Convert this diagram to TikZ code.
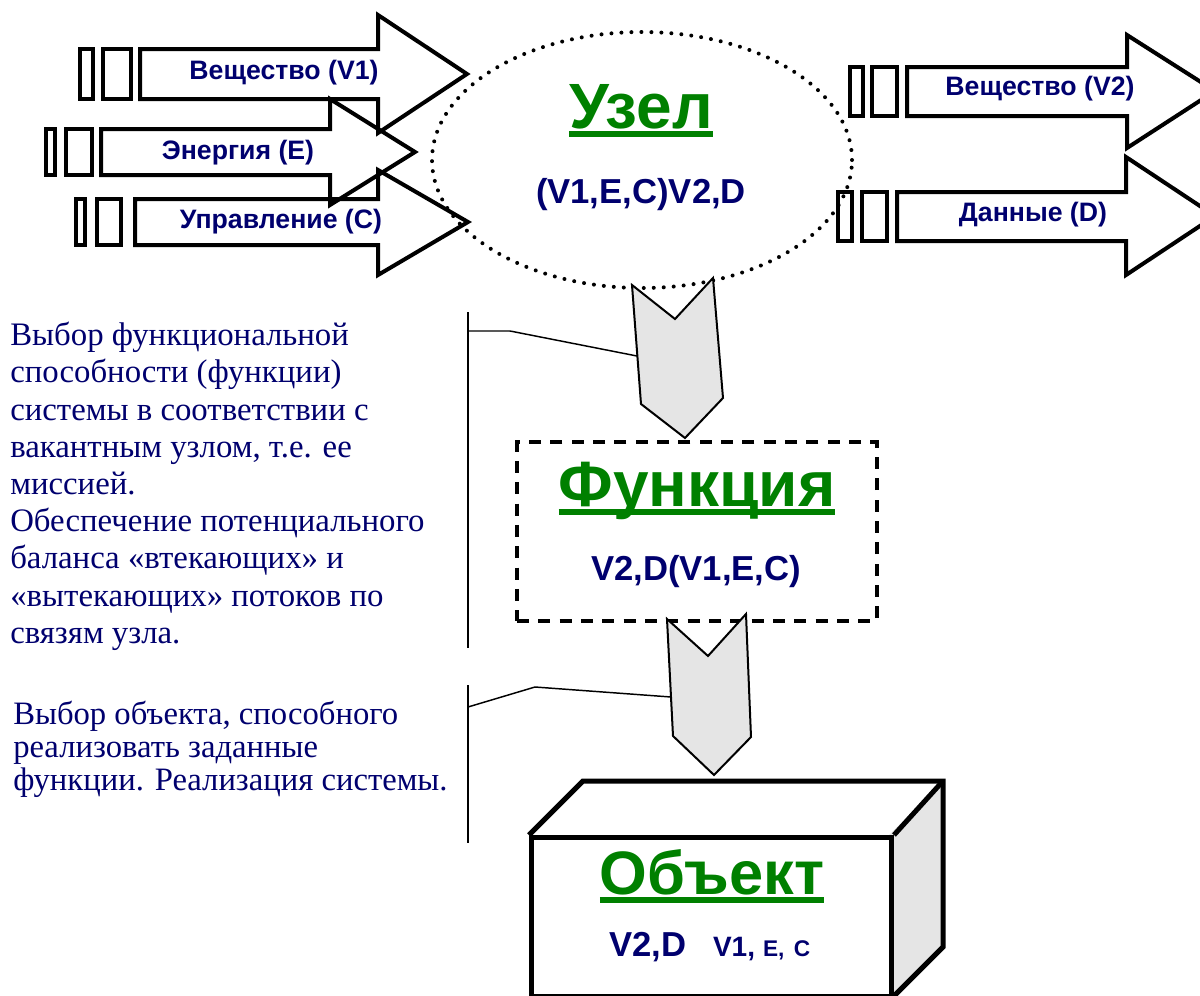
\documentclass[tikz,border=0pt]{standalone}
\usepackage{fontspec}
\setmainfont{Liberation Serif}
\setsansfont{Liberation Sans}
\usetikzlibrary{shapes.geometric}
\definecolor{navy}{RGB}{0,0,110}
\definecolor{leafgreen}{RGB}{0,128,0}
\newcommand{\titleline}[1]{\setbox0\hbox{#1}\rlap{\usebox0}\rule[-6.4pt]{\wd0}{3.8pt}}

\begin{document}
\begin{tikzpicture}[x = 0.75pt, y = -0.75pt]
	\tikzstyle{flowStyle} = [draw, line width = 3pt, line join = miter]
	\tikzstyle{flowLabel} = [font = \sffamily\bfseries\fontsize{20}{23}\selectfont, text = navy, inner sep = 0pt]
	\tikzstyle{titleStyle} = [font = \sffamily\bfseries\fontsize{48}{55}\selectfont, text = leafgreen, anchor = base, inner sep = 0pt]
	\tikzstyle{formulaStyle} = [font = \sffamily\bfseries\fontsize{26}{30}\selectfont, text = navy, anchor = base, inner sep = 0pt]
	\tikzstyle{noteStyle} = [font = \fontsize{24.6}{27.9}\selectfont, text = navy, align = left, anchor = north west, inner sep = 0pt]
	\tikzstyle{chevronStyle} = [draw, line width = 1.5pt, fill = black!10, line join = miter]
	\tikzstyle{leaderStyle} = [draw, line width = 1.1pt]
	\tikzstyle{boxStyle} = [draw, line width = 3.75pt, line join = miter]
	\useasboundingbox (0,0) rectangle (1200,996);
	\draw[flowStyle] (80,49) rectangle (93,99);
	\draw[flowStyle] (103,49) rectangle (131,99);
	\draw[flowStyle] (140,49) -- (378,49) -- (378,15) -- (467,74) -- (378,133) -- (378,99) -- (140,99) -- cycle;
	\draw[flowStyle] (46,129) rectangle (55,175);
	\draw[flowStyle] (66,129) rectangle (92,175);
	\draw[flowStyle] (101,129) -- (330,129) -- (330,99) -- (415,152) -- (330,205) -- (330,175) -- (101,175) -- cycle;
	\draw[flowStyle] (76,199) rectangle (85,245);
	\draw[flowStyle] (97,199) rectangle (121,245);
	\draw[flowStyle] (135,199) -- (378,199) -- (378,170) -- (468,222) -- (378,275) -- (378,245) -- (135,245) -- cycle;
	\draw[flowStyle] (850,67) rectangle (863,116);
	\draw[flowStyle] (872,67) rectangle (897,116);
	\draw[flowStyle] (907,67) -- (1127,67) -- (1127,35) -- (1215,91) -- (1127,148) -- (1127,116) -- (907,116) -- cycle;
	\draw[flowStyle] (838,192) rectangle (852,241);
	\draw[flowStyle] (862,192) rectangle (887,241);
	\draw[flowStyle] (897,192) -- (1126,192) -- (1126,157) -- (1215,216) -- (1126,275) -- (1126,241) -- (897,241) -- cycle;
	\node[flowLabel] (v1) at (284,73) {Вещество (V1)};
	\node[flowLabel] (en) at (238,153) {Энергия (E)};
	\node[flowLabel] (ctl) at (281,222) {Управление (C)};
	\node[flowLabel] (v2) at (1040,89) {Вещество (V2)};
	\node[flowLabel] (dat) at (1033,215) {Данные (D)};
	\node[draw, ellipse, line width = 3pt, dash pattern = on 0pt off 7.5pt, line cap = round, minimum width = 315pt, minimum height = 192pt] (uzel) at (642,160) {};
	\node[titleStyle] (uzelTitle) at (641,128) {\titleline{Узел}};
	\node[formulaStyle] (uzelText) at (641,203) {(V1,E,C)V2,D};
	\node[draw, line width = 3pt, dash pattern = on 9pt off 7pt, minimum width = 270pt, minimum height = 134pt] (func) at (697,531.5) {};
	\node[titleStyle] (funcTitle) at (697,506) {\titleline{Функция}};
	\node[formulaStyle] (funcText) at (696,580) {V2,D(V1,E,C)};
	\fill[black!10] (889,835) -- (943,781) -- (943,947) -- (889,1001) -- cycle;
	\node[boxStyle, minimum width = 270pt, minimum height = 119pt, anchor = north west] (obj) at (529,835) {};
	\draw[boxStyle] (obj.north west) -- (583,781) -- (943,781) -- (943,947) -- (889,1001);
	\draw[boxStyle] (obj.north east) -- (943,781);
	\node[titleStyle, font = \sffamily\bfseries\fontsize{46}{55}\selectfont] (objTitle) at (712,894) {\titleline{Объект}};
	\node[formulaStyle, anchor = base west] (objText) at (609,956) {V2,D\hspace{20pt}{\fontsize{21}{24}\selectfont V1,}\hspace{6pt}{\fontsize{17}{19}\selectfont E,\hspace{7pt}C}};
	\draw[chevronStyle] (632,285) -- (675,319) -- (713,278) -- (723,398) -- (685,438) -- (641,404) -- cycle;
	\draw[chevronStyle] (667,619) -- (708,656) -- (746,614) -- (751,737) -- (714,775) -- (673,736) -- cycle;
	\coordinate (bar1t) at (468,312);
	\coordinate (bar1b) at (468,648);
	\coordinate (tap1) at (468,331);
	\coordinate (knee1) at (510,331);
	\coordinate (hook1) at (637,356);
	\coordinate (bar2t) at (468,685);
	\coordinate (bar2b) at (468,843);
	\coordinate (tap2) at (468,707);
	\coordinate (knee2) at (535,687);
	\coordinate (hook2) at (671,697);
	\draw[leaderStyle] (bar1t) -- (bar1b);
	\draw[leaderStyle] (tap1) -- (knee1) -- (hook1);
	\draw[leaderStyle] (bar2t) -- (bar2b);
	\draw[leaderStyle] (tap2) -- (knee2) -- (hook2);
	\node[noteStyle] (note1) at (10,322) {Выбор функциональной\\способности (функции)\\системы в соответствии с\\вакантным узлом, т.е. ее\\миссией.\\Обеспечение потенциального\\баланса «втекающих» и\\«вытекающих» потоков по\\связям узла.};
	\node[noteStyle, font = \fontsize{24.5}{24.6}\selectfont] (note2) at (13,701) {Выбор объекта, способного\\реализовать заданные\\функции. Реализация системы.};
\end{tikzpicture}
\end{document}
